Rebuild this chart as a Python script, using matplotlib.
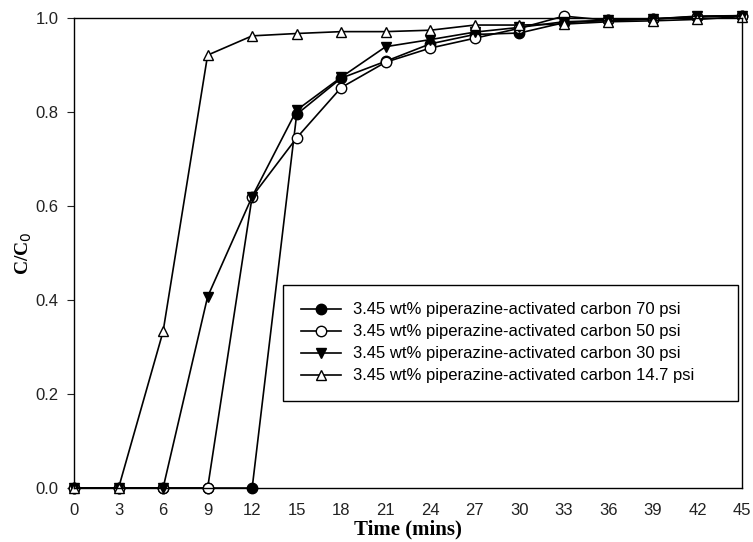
import numpy as np
import matplotlib
matplotlib.use('Agg')
import matplotlib.pyplot as plt

# Time axis (mins) and C/C0 readings for each pressure
time = [0, 3, 6, 9, 12, 15, 18, 21, 24, 27, 30, 33, 36, 39, 42, 45]

psi_70 = [0, 0, 0, 0, 0, 0.795, 0.872, 0.908, 0.945, 0.965, 0.968, 0.990, 0.995, 0.998, 1.003, 1.005]
psi_50 = [0, 0, 0, 0, 0.62, 0.745, 0.852, 0.906, 0.936, 0.957, 0.978, 1.004, 0.995, 0.998, 1.002, 1.005]
psi_30 = [0, 0, 0, 0.407, 0.62, 0.804, 0.874, 0.939, 0.954, 0.970, 0.980, 0.992, 0.995, 0.998, 1.004, 1.005]
psi_14 = [0, 0, 0.333, 0.921, 0.962, 0.967, 0.971, 0.971, 0.974, 0.985, 0.985, 0.987, 0.992, 0.994, 0.997, 1.003]

labels = ['3.45 wt% piperazine-activated carbon 70 psi',
          '3.45 wt% piperazine-activated carbon 50 psi',
          '3.45 wt% piperazine-activated carbon 30 psi',
          '3.45 wt% piperazine-activated carbon 14.7 psi']

plt.rcParams['font.family'] = ['Liberation Sans', 'DejaVu Sans']

fig = plt.figure(figsize=(7.53, 5.42), dpi=100)
ax = fig.add_axes([0.0983, 0.0996, 0.8871, 0.8672])

style = dict(color='black', lw=1.2, ms=7.5, mec='black', mew=1.0, clip_on=False)
ax.plot(time, psi_70, marker='o', mfc='black', label=labels[0], **style)
ax.plot(time, psi_50, marker='o', mfc='white', label=labels[1], **style)
ax.plot(time, psi_30, marker='v', mfc='black', label=labels[2], **style)
ax.plot(time, psi_14, marker='^', mfc='white', label=labels[3], **style)

ax.set_xlim(0, 45)
ax.set_ylim(0, 1.0)
ax.set_xticks(np.arange(0, 46, 3))
ax.set_yticks(np.arange(0, 1.01, 0.2))
ax.set_yticklabels(['%.1f' % v for v in np.arange(0, 1.01, 0.2)])
ax.tick_params(axis='both', labelsize=12, colors='#222222')
ax.tick_params(axis='x', length=0, pad=11)
ax.tick_params(axis='y', direction='out', length=5, pad=6)

for s in ax.spines.values():
    s.set_linewidth(1.0)

ax.set_xlabel('Time (mins)', family='Liberation Serif', fontweight='bold',
              fontsize=15, labelpad=1)
ax.set_ylabel('C/C$_0$', family='Liberation Serif', fontweight='bold',
              fontsize=14, labelpad=1.5)

# legend box is wider than its text in the original, so stretch it to a fixed box
leg = ax.legend(loc='upper left', bbox_to_anchor=(0.313, 0.0, 0.681, 0.432),
                mode='expand', borderaxespad=0, fontsize=12, handlelength=2.4,
                handletextpad=0.72, fancybox=False, edgecolor='black',
                framealpha=1, borderpad=1.05, labelspacing=0.42)
leg.get_frame().set_linewidth(1.0)

fig.savefig('out.png', dpi=100)
